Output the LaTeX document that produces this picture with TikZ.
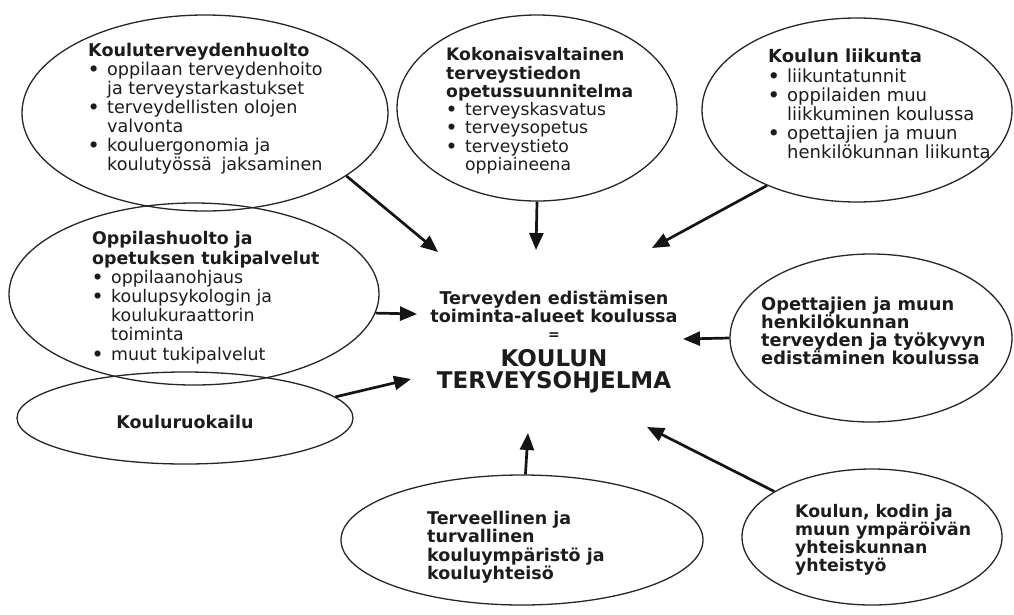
\documentclass[tikz,border=0pt]{standalone}
\usepackage{fontspec}
\setmainfont{DejaVu Sans}
\usetikzlibrary{shapes.geometric,arrows.meta}

% bullet item and its continuation line, with a hanging indent
\newcommand\itm[1]{\makebox[19pt][l]{\textbf{\textbullet}}#1}
\newcommand\cnt[1]{\hspace*{19pt}#1}

\definecolor{ink}{HTML}{1C1C1C}

\tikzset{
  zone/.style 2 args={ellipse, draw=black!85, line width=1.3pt, inner sep=0pt,
    minimum width=#1pt, minimum height=#2pt},
  txt/.style={anchor=north west, inner sep=0pt, align=left,
    font=\fontsize{17.5}{18.5}\selectfont, text=ink},
  hubtxt/.style={inner sep=0pt, align=center, text=ink},
  flow/.style={line width=2.7pt, draw=black!92,
    -{Triangle[length=17pt,width=14pt]}},
}

\begin{document}
\begin{tikzpicture}[x=1pt,y=-1pt]
\useasboundingbox (0,0) rectangle (1014,614);

% ---- areas of school health work ----
\node[zone={366}{196}] (e1) at (205,113) {};
\node[zone={280}{186}] (e2) at (537,108) {};
\node[zone={310}{184}] (e3) at (857,110) {};
\node[zone={370}{182}] (e4) at (194,294) {};
\node[zone={336}{92}]  (e5) at (185,418) {};
\node[zone={282}{168}] (e6) at (871,338) {};
\node[zone={362}{130}] (e7) at (522,540) {};
\node[zone={260}{136}] (e8) at (872,537) {};

\node[txt, font=\fontsize{17.6}{19}\selectfont] (t1) at (88,42.5)
  {\textbf{Kouluterveydenhuolto}\\
  \itm{oppilaan terveydenhoito}\\
  \cnt{ja terveystarkastukset}\\
  \itm{terveydellisten olojen}\\
  \cnt{valvonta}\\
  \itm{kouluergonomia ja}\\
  \cnt{koulutyössä\hspace{4pt} jaksaminen}};

\node[txt, font=\fontsize{17.2}{18.3}\selectfont] (t2) at (446,47.5)
  {\textbf{Kokonaisvaltainen}\\
  \textbf{terveystiedon}\\
  \textbf{opetussuunnitelma}\\
  \itm{terveyskasvatus}\\
  \itm{terveysopetus}\\
  \itm{terveystieto}\\
  \cnt{oppiaineena}};

\node[txt, font=\fontsize{18}{19.2}\selectfont] (t3) at (768,49)
  {\textbf{Koulun liikunta}\\
  \itm{liikuntatunnit}\\
  \itm{oppilaiden muu}\\
  \cnt{liikkuminen koulussa}\\
  \itm{opettajien ja muun}\\
  \cnt{henkilökunnan liikunta}};

\node[txt, font=\fontsize{17.4}{19.2}\selectfont] (t4) at (92,231.5)
  {\textbf{Oppilashuolto ja}\\
  \textbf{opetuksen tukipalvelut}\\
  \itm{oppilaanohjaus}\\
  \itm{koulupsykologin ja}\\
  \cnt{koulukuraattorin}\\
  \cnt{toiminta}\\
  \itm{muut tukipalvelut}};

\node[txt, anchor=base] (t5) at (185,428) {\textbf{Kouluruokailu}};

\node[txt, font=\fontsize{17.8}{17.4}\selectfont] (t6) at (761,296.5)
  {\textbf{Opettajien ja muun}\\
  \textbf{henkilökunnan}\\
  \textbf{terveyden ja työkyvyn}\\
  \textbf{edistäminen koulussa}};

\node[txt, font=\fontsize{17.5}{18.6}\selectfont] (t7) at (427,510.5)
  {\textbf{Terveellinen ja}\\
  \textbf{turvallinen}\\
  \textbf{kouluympäristö ja}\\
  \textbf{kouluyhteisö}};

\node[txt, font=\fontsize{17.3}{18}\selectfont] (t8) at (795,504.5)
  {\textbf{Koulun, kodin ja}\\
  \textbf{muun ympäröivän}\\
  \textbf{yhteiskunnan}\\
  \textbf{yhteistyö}};

% ---- central statement ----
\node[hubtxt, anchor=north, font=\fontsize{17.6}{17.8}\selectfont\bfseries] (hubA) at (554,290.5)
  {Terveyden edistämisen\\toiminta-alueet koulussa};
\node[hubtxt, anchor=base, font=\fontsize{14}{14}\selectfont\bfseries] (hubB) at (554,339) {=};
\node[hubtxt, anchor=north, font=\fontsize{23}{22}\selectfont\bfseries] (hubC) at (554,349)
  {KOULUN\\TERVEYSOHJELMA};

% ---- arrow tips around the central statement ----
\coordinate (p1) at (438,252);
\coordinate (p2) at (536,250);
\coordinate (p3) at (652,248);
\coordinate (p4) at (417,314);
\coordinate (p5) at (411,379);
\coordinate (p6) at (683,339);
\coordinate (p7) at (528,433);
\coordinate (p8) at (647,427);

\draw[flow] (e1.-24.6) -- (p1);
\draw[flow] (e2.-90) -- (p2);
\draw[flow] (e3.220.9) -- (p3);
\draw[flow] (e4.-6.4) -- (p4);
\draw[flow] (e5.8.5) -- (p5);
\draw[flow] (e6.180) -- (p6);
\draw[flow] (e7.87) -- (p7);
\draw[flow] (e8.155.8) -- (p8);
\end{tikzpicture}
\end{document}
